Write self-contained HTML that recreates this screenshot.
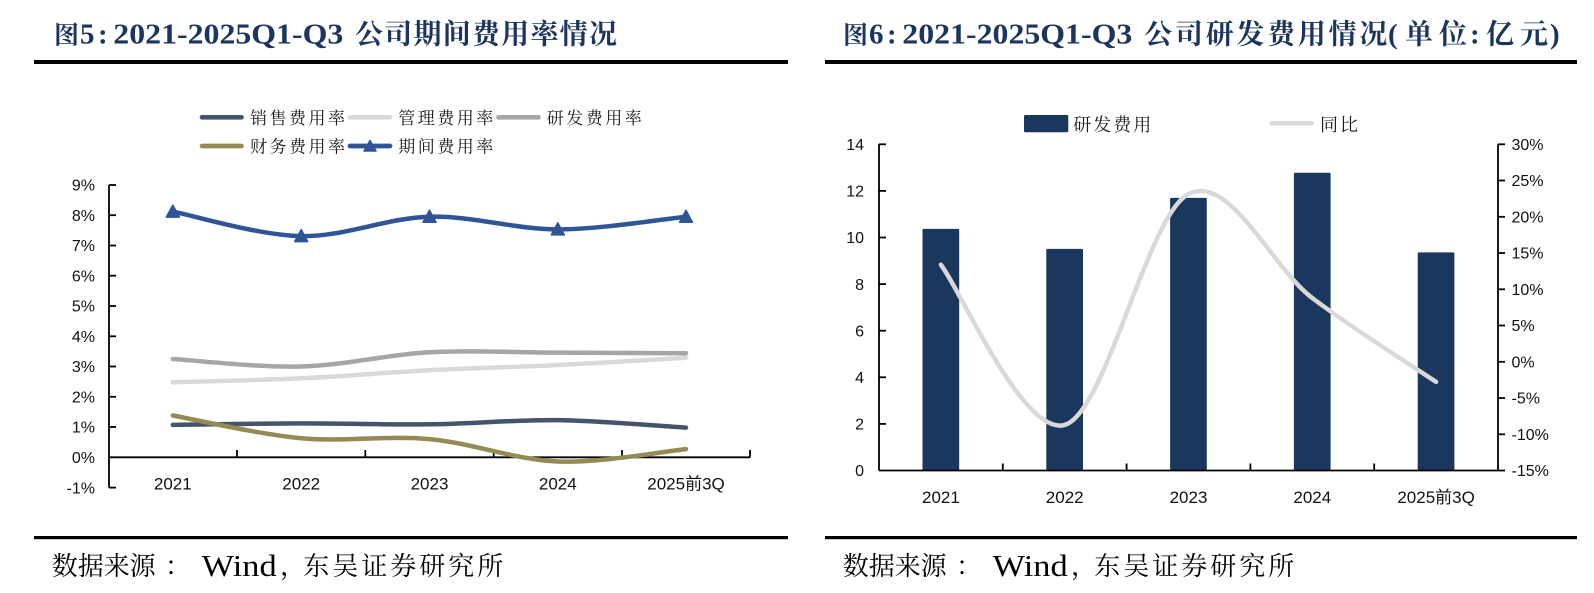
<!DOCTYPE html>
<html>
<head>
<meta charset="utf-8">
<style>
  html, body { margin:0; padding:0; background:#ffffff; }
  body { width:1594px; height:593px; overflow:hidden; }
  svg { display:block; }
  .ttl-l { font-family:"Liberation Serif","Noto Serif CJK SC",serif; font-weight:bold; fill:#1c355e; }
  .ttl-c { font-family:"Liberation Serif","Noto Serif CJK SC",serif; font-weight:bold; fill:#1c355e; }
  .lg { font-family:"Liberation Serif","Noto Serif CJK SC",serif; font-size:17px; fill:#1a1a1a; }
  .ax { font-family:"Liberation Sans","Noto Sans CJK SC",sans-serif; font-size:16px; fill:#111; }
  .axx { font-family:"Liberation Sans","Noto Sans CJK SC",sans-serif; font-size:17px; fill:#111; }
  .ft { font-family:"Liberation Serif","Noto Serif CJK SC",serif; fill:#000; }
</style>
</head>
<body>
<svg width="1594" height="593" viewBox="0 0 1594 593" xmlns="http://www.w3.org/2000/svg">
  <rect x="0" y="0" width="1594" height="593" fill="#fff"/>

  <!-- ================= LEFT TITLE ================= -->
  <text class="ttl-c" x="54" y="43.5" font-size="25">图</text>
  <text class="ttl-l" x="80" y="43.5" font-size="29">5</text>
  <text class="ttl-l" x="98" y="43.5" font-size="29">:</text>
  <text class="ttl-l" x="113.3" y="43.5" font-size="28" textLength="230" lengthAdjust="spacingAndGlyphs">2021-2025Q1-Q3</text>
  <text class="ttl-c" x="355" y="43.5" font-size="28" textLength="262" lengthAdjust="spacing">公司期间费用率情况</text>
  <rect x="34" y="60" width="754" height="4" fill="#000"/>

  <!-- ================= RIGHT TITLE ================= -->
  <text class="ttl-c" x="843" y="43.5" font-size="25">图</text>
  <text class="ttl-l" x="869" y="43.5" font-size="29">6</text>
  <text class="ttl-l" x="887" y="43.5" font-size="29">:</text>
  <text class="ttl-l" x="902.3" y="43.5" font-size="28" textLength="230" lengthAdjust="spacingAndGlyphs">2021-2025Q1-Q3</text>
  <text class="ttl-c" x="1144.3" y="43.5" font-size="28" textLength="243" lengthAdjust="spacing">公司研发费用情况</text>
  <text class="ttl-l" x="1388" y="43.5" font-size="29">(</text>
  <text class="ttl-c" x="1405" y="43.5" font-size="28" textLength="62" lengthAdjust="spacing">单位</text>
  <text class="ttl-l" x="1470" y="43.5" font-size="29">:</text>
  <text class="ttl-c" x="1486" y="43.5" font-size="28" textLength="62" lengthAdjust="spacing">亿元</text>
  <text class="ttl-l" x="1550" y="43.5" font-size="29">)</text>
  <rect x="825" y="60" width="752" height="4" fill="#000"/>

  <!-- ================= LEFT LEGEND ================= -->
  <g stroke-linecap="round" stroke-width="4.7" fill="none">
    <line x1="202" y1="117.3" x2="241.5" y2="117.3" stroke="#44546A"/>
    <line x1="350" y1="117.3" x2="390" y2="117.3" stroke="#D9D9D9"/>
    <line x1="498.5" y1="117.3" x2="538.5" y2="117.3" stroke="#A6A6A6"/>
    <line x1="202" y1="146" x2="241.5" y2="146" stroke="#948A54"/>
    <line x1="350" y1="146" x2="390" y2="146" stroke="#2F5597"/>
  </g>
  <polygon points="364,151 376,151 370,140.5" fill="#2F5597" stroke="#2F5597" stroke-width="1.5" stroke-linejoin="round"/>
  <text class="lg" x="250" y="123.8" textLength="95" lengthAdjust="spacing">销售费用率</text>
  <text class="lg" x="398.3" y="123.8" textLength="95" lengthAdjust="spacing">管理费用率</text>
  <text class="lg" x="546.7" y="123.8" textLength="95" lengthAdjust="spacing">研发费用率</text>
  <text class="lg" x="250" y="152.5" textLength="95" lengthAdjust="spacing">财务费用率</text>
  <text class="lg" x="398.3" y="152.5" textLength="95" lengthAdjust="spacing">期间费用率</text>

  <!-- ================= LEFT CHART AXES ================= -->
  <g stroke="#000" stroke-width="1.8" fill="none">
    <line x1="109" y1="185" x2="109" y2="487.6"/>
    <line x1="109" y1="457.3" x2="750" y2="457.3"/>
    <line x1="109" y1="185" x2="116" y2="185"/>
    <line x1="109" y1="215.2" x2="116" y2="215.2"/>
    <line x1="109" y1="245.5" x2="116" y2="245.5"/>
    <line x1="109" y1="275.7" x2="116" y2="275.7"/>
    <line x1="109" y1="306" x2="116" y2="306"/>
    <line x1="109" y1="336.3" x2="116" y2="336.3"/>
    <line x1="109" y1="366.5" x2="116" y2="366.5"/>
    <line x1="109" y1="396.8" x2="116" y2="396.8"/>
    <line x1="109" y1="427" x2="116" y2="427"/>
    <line x1="109" y1="487.6" x2="116" y2="487.6"/>
    <line x1="237" y1="450" x2="237" y2="457.3"/>
    <line x1="365.3" y1="450" x2="365.3" y2="457.3"/>
    <line x1="493.7" y1="450" x2="493.7" y2="457.3"/>
    <line x1="622" y1="450" x2="622" y2="457.3"/>
    <line x1="750" y1="450" x2="750" y2="457.3"/>
  </g>
  <g class="ax" text-anchor="end">
    <text x="95" y="190.7">9%</text>
    <text x="95" y="220.9">8%</text>
    <text x="95" y="251.2">7%</text>
    <text x="95" y="281.4">6%</text>
    <text x="95" y="311.7">5%</text>
    <text x="95" y="342">4%</text>
    <text x="95" y="372.2">3%</text>
    <text x="95" y="402.5">2%</text>
    <text x="95" y="432.7">1%</text>
    <text x="95" y="463">0%</text>
    <text x="95" y="493.3">-1%</text>
  </g>
  <g class="axx" text-anchor="middle">
    <text x="172.8" y="489.4">2021</text>
    <text x="301.2" y="489.4">2022</text>
    <text x="429.5" y="489.4">2023</text>
    <text x="557.8" y="489.4">2024</text>
    <text x="686" y="489.4">2025前3Q</text>
  </g>

  <!-- ================= LEFT CHART SERIES ================= -->
  <g fill="none" stroke-width="4.5" stroke-linecap="round" stroke-linejoin="round">
    <path stroke="#D9D9D9" d="M172.8,382.3 C194.2,381.6 258.4,380.3 301.2,378.3 C344,376.3 386.7,372.4 429.5,370.2 C472.3,368 515,367.1 557.8,365 C600.6,362.9 664.6,358.9 686,357.7"/>
    <path stroke="#A6A6A6" d="M172.8,359 C194.2,360.3 258.4,367.6 301.2,366.5 C344,365.4 386.7,354.6 429.5,352.3 C472.3,350 515,352.5 557.8,352.6 C600.6,352.8 664.6,353.1 686,353.2"/>
    <path stroke="#44546A" d="M172.8,424.9 C194.2,424.7 258.4,423.5 301.2,423.4 C344,423.3 386.7,424.9 429.5,424.3 C472.3,423.8 515,419.6 557.8,420.1 C600.6,420.7 664.6,426.4 686,427.6"/>
    <path stroke="#948A54" d="M172.8,415.5 C194.2,419.3 258.4,434.3 301.2,438.2 C344,442.1 386.7,435.2 429.5,439.1 C472.3,443 515,459.8 557.8,461.5 C600.6,463.2 664.6,451.2 686,449.1"/>
    <path stroke="#2F5597" d="M172.8,211.6 C194.2,215.7 258.4,235.3 301.2,236.1 C344,237 386.7,217.8 429.5,216.7 C472.3,215.6 515,229.4 557.8,229.4 C600.6,229.4 664.6,218.8 686,216.7"/>
  </g>
  <g fill="#2F5597" stroke="#2F5597" stroke-width="1.5" stroke-linejoin="round">
    <polygon points="166.3,217.1 179.3,217.1 172.8,205.1"/>
    <polygon points="294.7,241.6 307.7,241.6 301.2,229.6"/>
    <polygon points="423,222.2 436,222.2 429.5,210.2"/>
    <polygon points="551.3,234.9 564.3,234.9 557.8,222.9"/>
    <polygon points="679.5,222.2 692.5,222.2 686,210.2"/>
  </g>

  <!-- ================= RIGHT LEGEND ================= -->
  <rect x="1024" y="115" width="44.3" height="17.3" rx="1.5" fill="#1B375E"/>
  <text class="lg" x="1073.3" y="130.8" textLength="78" lengthAdjust="spacing" style="font-size:18px">研发费用</text>
  <line x1="1272" y1="123.3" x2="1311.5" y2="123.3" stroke="#D9D9D9" stroke-width="4.7" stroke-linecap="round"/>
  <text class="lg" x="1320" y="130.8" textLength="38" lengthAdjust="spacing" style="font-size:18px">同比</text>

  <!-- ================= RIGHT CHART BARS ================= -->
  <g fill="#1B375E">
    <rect x="922.5" y="228.9" width="36.7" height="241.6" rx="1.2"/>
    <rect x="1046.3" y="248.9" width="36.7" height="221.6" rx="1.2"/>
    <rect x="1170.1" y="197.9" width="36.7" height="272.6" rx="1.2"/>
    <rect x="1293.9" y="172.7" width="36.7" height="297.8" rx="1.2"/>
    <rect x="1417.7" y="252.4" width="36.7" height="218.1" rx="1.2"/>
  </g>

  <!-- ================= RIGHT CHART AXES ================= -->
  <g stroke="#000" stroke-width="1.8" fill="none">
    <line x1="879" y1="144.3" x2="879" y2="470.5"/>
    <line x1="1498" y1="144.3" x2="1498" y2="470.5"/>
    <line x1="879" y1="470.5" x2="1498" y2="470.5"/>
    <line x1="879" y1="144.3" x2="886" y2="144.3"/>
    <line x1="879" y1="190.9" x2="886" y2="190.9"/>
    <line x1="879" y1="237.5" x2="886" y2="237.5"/>
    <line x1="879" y1="284.1" x2="886" y2="284.1"/>
    <line x1="879" y1="330.7" x2="886" y2="330.7"/>
    <line x1="879" y1="377.3" x2="886" y2="377.3"/>
    <line x1="879" y1="423.9" x2="886" y2="423.9"/>
    <line x1="1498" y1="144.3" x2="1505" y2="144.3"/>
    <line x1="1498" y1="180.5" x2="1505" y2="180.5"/>
    <line x1="1498" y1="216.8" x2="1505" y2="216.8"/>
    <line x1="1498" y1="253" x2="1505" y2="253"/>
    <line x1="1498" y1="289.3" x2="1505" y2="289.3"/>
    <line x1="1498" y1="325.5" x2="1505" y2="325.5"/>
    <line x1="1498" y1="361.8" x2="1505" y2="361.8"/>
    <line x1="1498" y1="398" x2="1505" y2="398"/>
    <line x1="1498" y1="434.3" x2="1505" y2="434.3"/>
    <line x1="1498" y1="470.5" x2="1505" y2="470.5"/>
    <line x1="1002.8" y1="463.5" x2="1002.8" y2="470.5"/>
    <line x1="1126.6" y1="463.5" x2="1126.6" y2="470.5"/>
    <line x1="1250.4" y1="463.5" x2="1250.4" y2="470.5"/>
    <line x1="1374.2" y1="463.5" x2="1374.2" y2="470.5"/>
  </g>
  <g class="ax" text-anchor="end">
    <text x="864" y="150">14</text>
    <text x="864" y="196.6">12</text>
    <text x="864" y="243.2">10</text>
    <text x="864" y="289.8">8</text>
    <text x="864" y="336.4">6</text>
    <text x="864" y="383">4</text>
    <text x="864" y="429.6">2</text>
    <text x="864" y="476.2">0</text>
  </g>
  <g class="ax" text-anchor="start">
    <text x="1511.5" y="150">30%</text>
    <text x="1511.5" y="186.2">25%</text>
    <text x="1511.5" y="222.5">20%</text>
    <text x="1511.5" y="258.7">15%</text>
    <text x="1511.5" y="295">10%</text>
    <text x="1511.5" y="331.2">5%</text>
    <text x="1511.5" y="367.5">0%</text>
    <text x="1511.5" y="403.7">-5%</text>
    <text x="1511.5" y="440">-10%</text>
    <text x="1511.5" y="476.2">-15%</text>
  </g>
  <g class="axx" text-anchor="middle">
    <text x="940.9" y="503">2021</text>
    <text x="1064.7" y="503">2022</text>
    <text x="1188.5" y="503">2023</text>
    <text x="1312.3" y="503">2024</text>
    <text x="1436.1" y="503">2025前3Q</text>
  </g>

  <!-- ================= RIGHT CHART LINE ================= -->
  <path fill="none" stroke="#D9D9D9" stroke-width="4.5" stroke-linecap="round" stroke-linejoin="round"
        d="M940.9,264.7 C961.5,291.4 1023.4,436.7 1064.7,424.9 C1106,413.1 1147.2,215.2 1188.5,194 C1229.8,172.9 1271,266.7 1312.3,298 C1353.6,329.3 1415.5,367.9 1436.1,381.9"/>

  <!-- ================= FOOTERS ================= -->
  <rect x="34" y="536" width="754" height="3.2" fill="#000"/>
  <rect x="825" y="536" width="752" height="3.2" fill="#000"/>

  <g class="ft">
    <text x="51.7" y="575" font-size="26" textLength="104" lengthAdjust="spacing">数据来源</text>
    <text x="165" y="575" font-size="26">：</text>
    <text x="201.7" y="576" font-size="31" textLength="75" lengthAdjust="spacingAndGlyphs">Wind</text>
    <text x="280" y="575" font-size="26">，</text>
    <text x="303.3" y="575" font-size="26" textLength="200" lengthAdjust="spacing">东吴证券研究所</text>
  </g>
  <g class="ft" transform="translate(791,0)">
    <text x="51.7" y="575" font-size="26" textLength="104" lengthAdjust="spacing">数据来源</text>
    <text x="165" y="575" font-size="26">：</text>
    <text x="201.7" y="576" font-size="31" textLength="75" lengthAdjust="spacingAndGlyphs">Wind</text>
    <text x="280" y="575" font-size="26">，</text>
    <text x="303.3" y="575" font-size="26" textLength="200" lengthAdjust="spacing">东吴证券研究所</text>
  </g>
</svg>
</body>
</html>
